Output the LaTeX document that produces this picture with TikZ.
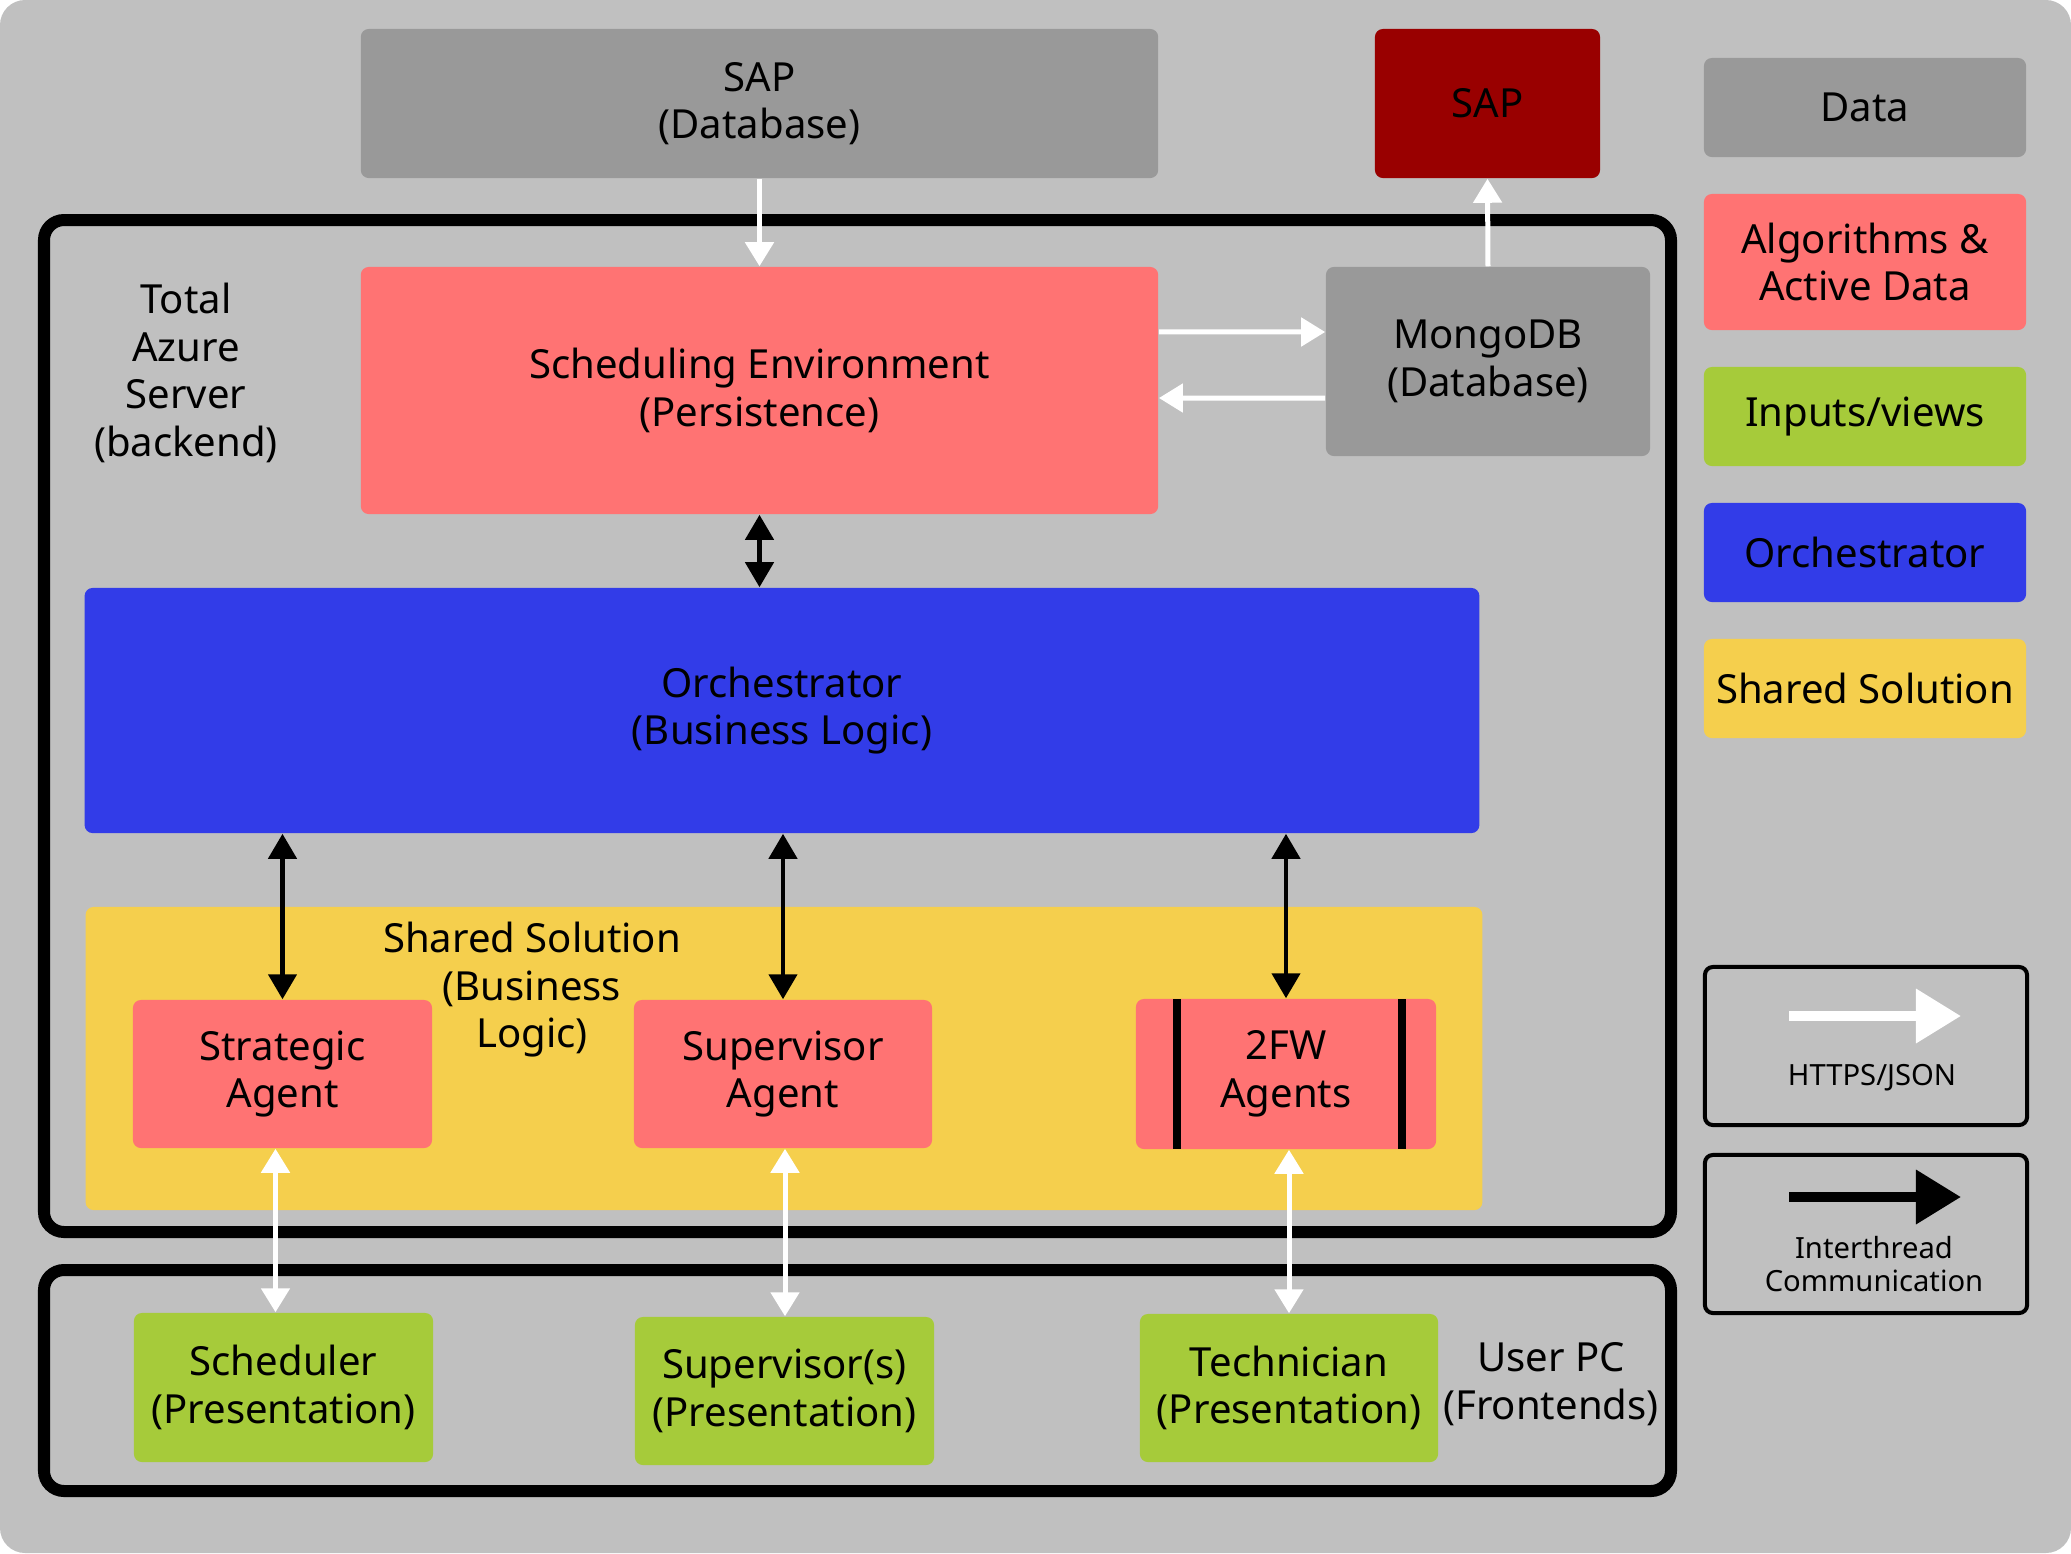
\documentclass[tikz,border=0pt]{standalone}
\usepackage{fontspec}
\setmainfont{Noto Sans}
\usetikzlibrary{arrows.meta}
\definecolor{bgc}{HTML}{C0C0C0}
\definecolor{datac}{HTML}{999999}
\definecolor{algc}{HTML}{FF7373}
\definecolor{inpc}{HTML}{A6CB3A}
\definecolor{orchc}{HTML}{323CE8}
\definecolor{sharedc}{HTML}{F5CF4D}
\definecolor{sapred}{HTML}{990000}
\tikzset{
  blk/.style={rounded corners=0.08cm, inner sep=0pt, align=center,
    font=\fontsize{11.4}{13.5}\selectfont},
  thickbox/.style={draw=black, line width=0.12cm, rounded corners=0.2cm},
  legbox/.style={draw=black, line width=0.04cm, rounded corners=0.08cm, inner sep=0pt},
  warrow/.style={draw=white, line width=0.05cm, {Triangle[length=0.24cm,width=0.28cm]}-{Triangle[length=0.24cm,width=0.28cm]}},
  warrowone/.style={draw=white, line width=0.05cm, -{Triangle[length=0.24cm,width=0.28cm]}},
  barrow/.style={draw=black, line width=0.045cm, {Triangle[length=0.25cm,width=0.28cm]}-{Triangle[length=0.25cm,width=0.28cm]}},
  plain/.style={align=center, inner sep=0pt, font=\fontsize{11.4}{13.5}\selectfont},
  smalltxt/.style={align=center, inner sep=0pt, font=\fontsize{8.3}{9.4}\selectfont},
}
\begin{document}
\begin{tikzpicture}[x=0.01cm, y=-0.01cm]
\useasboundingbox (0,0) rectangle (2071,1553);
\fill[bgc, rounded corners=0.25cm] (0,0) rectangle (2071,1553);

% thick containers
\draw[thickbox] (44,220) rectangle (1671,1232);
\draw[thickbox] (44,1270) rectangle (1671,1491);

% top
\node[blk, fill=datac, minimum width=7.97cm, minimum height=1.49cm] (sapdb) at (759.5,103.5) {SAP\\(Database)};
\node[blk, fill=sapred, minimum width=2.25cm, minimum height=1.49cm] (sapr) at (1487.5,103.5) {SAP};
\node[blk, fill=algc, minimum width=7.97cm, minimum height=2.47cm] (se) at (759.5,390.5) {Scheduling Environment\\(Persistence)};
\node[blk, fill=datac, minimum width=3.24cm, minimum height=1.89cm] (mongo) at (1488,361.5) {MongoDB\\(Database)};
\node[blk, fill=orchc, minimum width=13.94cm, minimum height=2.45cm] (orch) at (782,710.5) {Orchestrator\\(Business Logic)};
\node[blk, fill=sharedc, minimum width=13.96cm, minimum height=3.03cm] (shared) at (784,1058.5) {};
\node[plain] (sharedlbl) at (532,990) {Shared Solution\\(Business\\Logic)};
\node[plain] (azlbl) at (186,373) {Total\\Azure\\Server\\(backend)};
\node[plain] (pclbl) at (1551,1384) {User PC\\(Frontends)};

% agents
\node[blk, fill=algc, minimum width=2.99cm, minimum height=1.48cm] (strat) at (282.5,1074) {Strategic\\Agent};
\node[blk, fill=algc, minimum width=2.98cm, minimum height=1.48cm] (sup) at (783,1074) {Supervisor\\Agent};
\node[blk, fill=algc, minimum width=3.00cm, minimum height=1.50cm] (fw) at (1286,1074) {2FW\\Agents};
\fill[black] (1173,999) rectangle (1181,1149);
\fill[black] (1398,999) rectangle (1406,1149);

% frontends
\node[blk, fill=inpc, minimum width=2.99cm, minimum height=1.49cm] (sched) at (283.5,1387.5) {Scheduler\\(Presentation)};
\node[blk, fill=inpc, minimum width=2.99cm, minimum height=1.48cm] (sups) at (784.5,1391) {Supervisor(s)\\(Presentation)};
\node[blk, fill=inpc, minimum width=2.98cm, minimum height=1.48cm] (tech) at (1289,1388) {Technician\\(Presentation)};

% legend
\node[blk, fill=datac, minimum width=3.22cm, minimum height=0.99cm] (ldata) at (1865,107.5) {Data};
\node[blk, fill=algc, minimum width=3.22cm, minimum height=1.36cm] (lalg) at (1865,262) {Algorithms \&\\Active Data};
\node[blk, fill=inpc, minimum width=3.22cm, minimum height=0.99cm] (linp) at (1865,416.5) {Inputs/views};
\node[blk, fill=orchc, minimum width=3.22cm, minimum height=0.99cm] (lorch) at (1865,552.5) {Orchestrator};
\node[blk, fill=sharedc, minimum width=3.22cm, minimum height=0.99cm] (lshared) at (1865,688.5) {Shared Solution};

\node[legbox, minimum width=3.22cm, minimum height=1.58cm] (lhttp) at (1866,1046) {};
\node[legbox, minimum width=3.22cm, minimum height=1.58cm] (lint) at (1866,1234) {};
\coordinate (h1) at (1789,1016);
\coordinate (h2) at (1961,1016);
\draw[white, line width=0.10cm, -{Triangle[length=0.45cm,width=0.52cm]}] (h1) -- (h2);
\node[smalltxt] (lhttpt) at (1872,1078) {HTTPS/JSON};
\coordinate (i1) at (1789,1197);
\coordinate (i2) at (1961,1197);
\draw[black, line width=0.10cm, -{Triangle[length=0.45cm,width=0.52cm]}] (i1) -- (i2);
\node[smalltxt] (lintt) at (1874,1264) {Interthread\\Communication};

% connectors
\draw[warrowone] (sapdb.south) -- (se.north);
\draw[warrowone] (mongo.north) -- (sapr.south);
\draw[warrowone] ([yshift=0.585cm]se.east) -- ([yshift=0.295cm]mongo.west);
\draw[warrowone] ([yshift=-0.365cm]mongo.west) -- ([yshift=-0.075cm]se.east);
\draw[barrow] (se.south) -- (se.south |- orch.north);
\draw[barrow] (strat.north |- orch.south) -- (strat.north);
\draw[barrow] (sup.north |- orch.south) -- (sup.north);
\draw[barrow] (fw.north |- orch.south) -- (fw.north);
\draw[warrow] ([xshift=-0.07cm]strat.south) -- ([xshift=-0.07cm]strat.south |- sched.north);
\draw[warrow] ([xshift=0.02cm]sup.south) -- ([xshift=0.02cm]sup.south |- sups.north);
\draw[warrow] ([xshift=0.03cm]fw.south) -- ([xshift=0.03cm]fw.south |- tech.north);
\end{tikzpicture}
\end{document}
